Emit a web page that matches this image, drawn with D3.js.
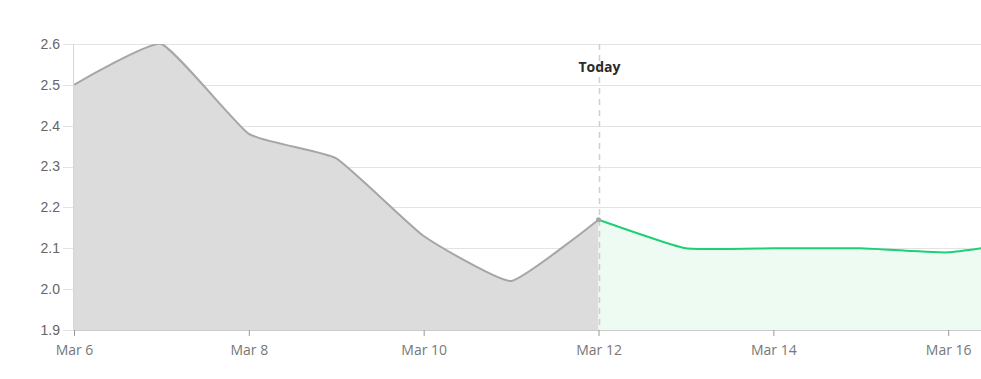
<!DOCTYPE html>
<html>
<head>
<meta charset="utf-8">
<script src="https://cdn.jsdelivr.net/npm/d3@7"></script>
<style>
  body { margin: 0; background: #fff; }
  svg { display: block; }
</style>
</head>
<body>
<svg width="981" height="379"></svg>
<script>
// history up to today, then forecast
var pastDates = ["2024-03-06", "2024-03-07", "2024-03-08", "2024-03-09", "2024-03-10", "2024-03-11", "2024-03-12"];
var pastValues = [2.50, 2.60, 2.38, 2.32, 2.13, 2.02, 2.17];
var forecastDates = ["2024-03-12", "2024-03-13", "2024-03-14", "2024-03-15", "2024-03-16", "2024-03-17"];
var forecastValues = [2.17, 2.10, 2.10, 2.10, 2.09, 2.12];
var yTicks = [1.9, 2.0, 2.1, 2.2, 2.3, 2.4, 2.5, 2.6];
var xTickDates = ["2024-03-06", "2024-03-08", "2024-03-10", "2024-03-12", "2024-03-14", "2024-03-16"];
var todayDate = "2024-03-12";

var svg = d3.select("svg"),
    width = +svg.attr("width"),
    height = +svg.attr("height");

var margin = {top: 44, right: 0, bottom: 49, left: 74},
    w = width - margin.left - margin.right,
    h = height - margin.top - margin.bottom;

var parse = d3.timeParse("%Y-%m-%d");

var past = pastDates.map(function(d, i) { return {date: parse(d), value: pastValues[i]}; });
var forecast = forecastDates.map(function(d, i) { return {date: parse(d), value: forecastValues[i]}; });

// visible range ends a bit after Mar 16
var x = d3.scaleTime()
    .domain([parse("2024-03-06"), d3.timeHour.offset(parse("2024-03-16"), 9.8)])
    .range([0, w]);

var y = d3.scaleLinear()
    .domain([1.9, 2.6])
    .range([h, 0]);

var g = svg.append("g")
    .attr("transform", "translate(" + margin.left + "," + margin.top + ")");

svg.append("defs").append("clipPath").attr("id", "plot-clip")
  .append("rect").attr("width", w).attr("height", h + 1);

// gridlines
g.selectAll(".grid")
  .data(yTicks)
  .enter().append("line")
    .attr("x1", -11)
    .attr("x2", w)
    .attr("y1", function(d) { return Math.round(y(d)) + 0.5; })
    .attr("y2", function(d) { return Math.round(y(d)) + 0.5; })
    .attr("stroke", "#e3e3e3")
    .attr("stroke-width", 1);

g.selectAll(".ylabel")
  .data(yTicks)
  .enter().append("text")
    .attr("x", -14)
    .attr("y", function(d) { return y(d); })
    .attr("dy", "0.35em")
    .attr("text-anchor", "end")
    .attr("font-family", "Liberation Sans, Arial, sans-serif")
    .attr("font-size", 14)
    .attr("fill", "#666")
    .text(function(d) { return d.toFixed(1); });

var plot = g.append("g").attr("clip-path", "url(#plot-clip)");

var curve = d3.curveCardinal.tension(0.6);

var area = d3.area()
    .x(function(d) { return x(d.date); })
    .y0(h)
    .y1(function(d) { return y(d.value); })
    .curve(curve);

var line = d3.line()
    .x(function(d) { return x(d.date); })
    .y(function(d) { return y(d.value); })
    .curve(curve);

plot.append("path").datum(past)
    .attr("d", area)
    .attr("fill", "#dcdcdc");

plot.append("path").datum(forecast)
    .attr("d", area)
    .attr("fill", "#eefbf3");

plot.append("path").datum(past)
    .attr("d", line)
    .attr("fill", "none")
    .attr("stroke", "#a6a6a6")
    .attr("stroke-width", 2);

plot.append("path").datum(forecast)
    .attr("d", line)
    .attr("fill", "none")
    .attr("stroke", "#1dcf75")
    .attr("stroke-width", 2);

// left axis line
g.append("line")
    .attr("x1", -0.5).attr("x2", -0.5)
    .attr("y1", 0).attr("y2", h)
    .attr("stroke", "#d6d6d6");

// today marker
var tx = Math.round(x(parse(todayDate))) + 0.5;
g.append("line")
    .attr("x1", tx).attr("x2", tx)
    .attr("y1", 0).attr("y2", h)
    .attr("stroke", "#cfcfcf")
    .attr("stroke-width", 1.5)
    .attr("stroke-dasharray", "6,5");

g.append("circle")
    .attr("cx", x(parse(todayDate)))
    .attr("cy", y(pastValues[pastValues.length - 1]))
    .attr("r", 2.5)
    .attr("fill", "#a6a6a6");

g.append("text")
    .attr("x", tx)
    .attr("y", 23)
    .attr("dy", "0.35em")
    .attr("text-anchor", "middle")
    .attr("font-family", "Open Sans, sans-serif")
    .attr("font-size", 14)
    .attr("font-weight", "bold")
    .attr("fill", "#2b2b2b")
    .text("Today");

// x axis
var xAxis = d3.axisBottom(x)
    .tickValues(xTickDates.map(parse))
    .tickSize(6)
    .tickPadding(9)
    .tickFormat(d3.timeFormat("%b %-d"));

var ax = g.append("g")
    .attr("transform", "translate(0," + h + ")")
    .call(xAxis);

ax.select(".domain").attr("stroke", "#cccccc");
ax.selectAll(".tick line").attr("stroke", "#999");
ax.selectAll(".tick text")
    .attr("font-family", "Open Sans, sans-serif")
    .attr("font-size", 14)
    .attr("fill", "#777");
</script>
</body>
</html>
